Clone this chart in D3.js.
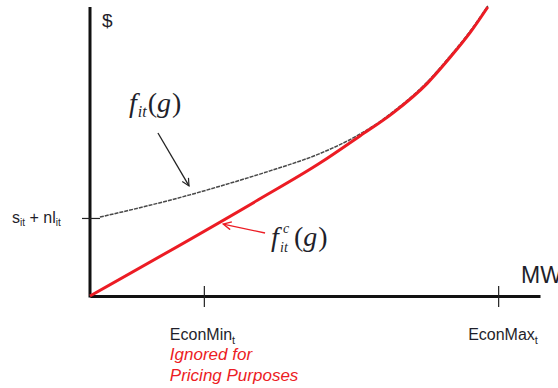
<!DOCTYPE html>
<html lang="en">
<head>
<meta charset="utf-8">
<title>Offer curve</title>
<script src="https://cdn.jsdelivr.net/npm/d3@7"></script>
<style>
  body { margin: 0; background: #fff; }
  svg { display: block; }
  .lbl { font-family: "Liberation Sans", Arial, sans-serif; fill: #1f1f2b; }
  .math { font-family: "Liberation Serif", "Times New Roman", serif; fill: #1f1f2b; }
</style>
</head>
<body>
<script>
// curve data, MW (0-100) vs $ (0-100)
var redMW   = [0, 37.3, 51.1, 60, 67.3, 74.9, 80, 84.5, 88.4];
var redCost = [0, 33.2, 46.0, 55.4, 63.3, 73.5, 82.5, 91.2, 100];

var greyMW   = [2.2, 13.3, 22.2, 28.9, 40, 51.1, 58, 64, 67.3, 74.9, 80, 84.5, 88.4];
var greyCost = [27.3, 31.4, 35.0, 38.0, 43.3, 49.3, 54.3, 59.9, 63.7, 74.0, 83.0, 91.7, 100.4];

var xTicks = [25.3, 90.7];
var xTickNames = ["EconMin", "EconMax"];
var yTickValue = 27.0;

var w = 558, h = 388;
var red = "#ec1c24";

var svg = d3.select("body").append("svg")
  .attr("width", w)
  .attr("height", h);

var x = d3.scaleLinear().domain([0, 100]).range([90, 540]);
var y = d3.scaleLinear().domain([0, 100]).range([296, 7]);

// arrow heads
var defs = svg.append("defs");
defs.append("marker")
  .attr("id", "arrBlack")
  .attr("viewBox", "0 0 10 10")
  .attr("refX", 9).attr("refY", 5)
  .attr("markerWidth", 9).attr("markerHeight", 9)
  .attr("markerUnits", "userSpaceOnUse")
  .attr("orient", "auto")
  .append("path")
  .attr("d", "M1,1 L9,5 L1,9")
  .attr("fill", "none")
  .attr("stroke", "#222")
  .attr("stroke-width", 1.3);
defs.append("marker")
  .attr("id", "arrRed")
  .attr("viewBox", "0 0 10 10")
  .attr("refX", 9).attr("refY", 5)
  .attr("markerWidth", 10).attr("markerHeight", 10)
  .attr("markerUnits", "userSpaceOnUse")
  .attr("orient", "auto")
  .append("path")
  .attr("d", "M1,1 L9,5 L1,9")
  .attr("fill", "none")
  .attr("stroke", red)
  .attr("stroke-width", 1.3);

// x axis
var xAxis = d3.axisBottom(x).tickValues(xTicks).tickFormat("").tickSizeOuter(0);
var gx = svg.append("g")
  .attr("transform", "translate(0," + y(0) + ")")
  .call(xAxis);
gx.select(".domain").attr("stroke", "#111").attr("stroke-width", 3);
gx.selectAll(".tick line").attr("y1", -10).attr("y2", 11).attr("stroke", "#222").attr("stroke-width", 1.2);

// y axis
var yAxis = d3.axisLeft(y).tickValues([yTickValue]).tickFormat("").tickSizeOuter(0);
var gy = svg.append("g")
  .attr("transform", "translate(" + x(0) + ",0)")
  .call(yAxis);
gy.select(".domain").attr("stroke", "#111").attr("stroke-width", 3)
  .attr("d", "M0," + (y(0) + 1.5) + "V" + y(100));
gy.selectAll(".tick line").attr("x1", -8).attr("x2", 10).attr("stroke", "#222").attr("stroke-width", 1.2);

// curves
var line = d3.line()
  .x(function(d) { return x(d[0]); })
  .y(function(d) { return y(d[1]); })
  .curve(d3.curveMonotoneX);

svg.append("path")
  .datum(d3.zip(greyMW, greyCost))
  .attr("d", line)
  .attr("fill", "none")
  .attr("stroke", "#484848")
  .attr("stroke-width", 1.5)
  .attr("stroke-dasharray", "4,1");

svg.append("path")
  .datum(d3.zip(redMW, redCost))
  .attr("d", line)
  .attr("fill", "none")
  .attr("stroke", red)
  .attr("stroke-width", 3);

// annotation arrows
svg.append("line")
  .attr("x1", x(15.1)).attr("y1", y(56.4))
  .attr("x2", x(22)).attr("y2", y(38.1))
  .attr("stroke", "#222").attr("stroke-width", 1.3)
  .attr("marker-end", "url(#arrBlack)");

svg.append("line")
  .attr("x1", x(38.9)).attr("y1", y(21.8))
  .attr("x2", x(29.6)).attr("y2", y(24.9))
  .attr("stroke", red).attr("stroke-width", 1.3)
  .attr("marker-end", "url(#arrRed)");

// axis titles
svg.append("text").attr("class", "lbl")
  .attr("x", 102).attr("y", 27)
  .style("font-size", "19px")
  .text("$");

svg.append("text").attr("class", "lbl")
  .attr("x", 521).attr("y", 283)
  .style("font-size", "23px")
  .text("MW");

// y tick label
var yl = svg.append("text").attr("class", "lbl")
  .attr("x", 12).attr("y", y(yTickValue) + 5)
  .style("font-size", "16px");
yl.append("tspan").text("s");
yl.append("tspan").attr("dy", 3).style("font-size", "10px").text("it");
yl.append("tspan").attr("dy", -3).text(" + nl");
yl.append("tspan").attr("dy", 3).style("font-size", "10px").text("it");

// x tick labels
xTicks.forEach(function(v, i) {
  var t = svg.append("text").attr("class", "lbl")
    .attr("x", x(v) - (i === 0 ? 34 : 30)).attr("y", 340)
    .style("font-size", "16px");
  t.append("tspan").text(xTickNames[i]);
  t.append("tspan").attr("dy", 4).style("font-size", "11px").text("t");
});

svg.append("text").attr("class", "lbl")
  .attr("x", x(xTicks[0]) - 34).attr("y", 360)
  .style("font-size", "17px").style("font-style", "italic").style("fill", red)
  .text("Ignored for");
svg.append("text").attr("class", "lbl")
  .attr("x", x(xTicks[0]) - 34).attr("y", 381)
  .style("font-size", "17px").style("font-style", "italic").style("fill", red)
  .text("Pricing Purposes");

// f_it(g)
var f1 = svg.append("text").attr("class", "math")
  .attr("x", 129).attr("y", 112)
  .style("font-size", "28px");
f1.append("tspan").style("font-style", "italic").text("f");
f1.append("tspan").attr("dy", 5).attr("dx", 1).style("font-size", "16px").style("font-style", "italic").text("it");
f1.append("tspan").attr("dy", -5).attr("dx", 1).text("(");
f1.append("tspan").style("font-style", "italic").text("g");
f1.append("tspan").attr("dx", 1).text(")");

// f^c_it(g)
var f2 = svg.append("text").attr("class", "math")
  .attr("x", 271).attr("y", 246)
  .style("font-size", "28px");
f2.append("tspan").style("font-style", "italic").text("f");
svg.append("text").attr("class", "math")
  .attr("x", 283).attr("y", 233)
  .style("font-size", "14px").style("font-style", "italic")
  .text("c");
svg.append("text").attr("class", "math")
  .attr("x", 280).attr("y", 252)
  .style("font-size", "14px").style("font-style", "italic")
  .text("it");
var f2b = svg.append("text").attr("class", "math")
  .attr("x", 294).attr("y", 246)
  .style("font-size", "28px");
f2b.append("tspan").text("(");
f2b.append("tspan").style("font-style", "italic").text("g");
f2b.append("tspan").attr("dx", 1).text(")");
</script>
</body>
</html>
